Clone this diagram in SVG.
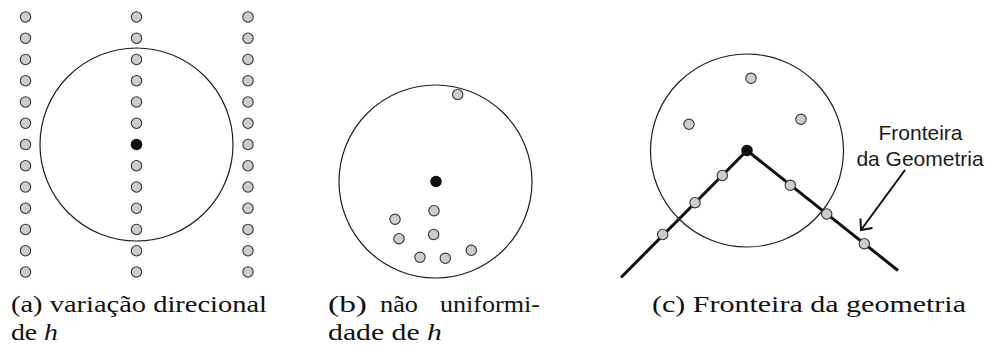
<svg xmlns="http://www.w3.org/2000/svg" width="991" height="349" viewBox="0 0 991 349">
<style>
.bg{fill:#fff}
.ring{fill:none;stroke:#1e1e1e;stroke-width:1.2}
.dot{fill:#cdcdcd;stroke:#333;stroke-width:1.1}
.ctr{fill:#111}
.cap{font-family:'Liberation Serif','Times New Roman',serif;font-size:23.5px;fill:#111}
.lbl{font-family:'Liberation Sans',Arial,sans-serif;font-size:21px;fill:#1a1a1a;text-anchor:middle}
.bnd{fill:none;stroke:#111;stroke-width:3;stroke-linejoin:miter}
.arr{fill:none;stroke:#111;stroke-width:2}
</style>
<defs>
<circle id="d" r="5.2" class="dot"/>
</defs>
<rect class="bg" x="0" y="0" width="991" height="349"/>

<g id="panel-a">
<circle class="ring" cx="136.5" cy="144.5" r="96.5"/>
<g id="col-left">
<use href="#d" x="25.5" y="17"/><use href="#d" x="25.5" y="38.25"/><use href="#d" x="25.5" y="59.5"/><use href="#d" x="25.5" y="80.75"/><use href="#d" x="25.5" y="102"/><use href="#d" x="25.5" y="123.25"/><use href="#d" x="25.5" y="144.5"/><use href="#d" x="25.5" y="165.75"/><use href="#d" x="25.5" y="187"/><use href="#d" x="25.5" y="208.25"/><use href="#d" x="25.5" y="229.5"/><use href="#d" x="25.5" y="250.75"/><use href="#d" x="25.5" y="272"/>
</g>
<g id="col-mid">
<use href="#d" x="136.5" y="17"/><use href="#d" x="136.5" y="38.25"/><use href="#d" x="136.5" y="59.5"/><use href="#d" x="136.5" y="80.75"/><use href="#d" x="136.5" y="102"/><use href="#d" x="136.5" y="123.25"/><use href="#d" x="136.5" y="165.75"/><use href="#d" x="136.5" y="187"/><use href="#d" x="136.5" y="208.25"/><use href="#d" x="136.5" y="229.5"/><use href="#d" x="136.5" y="250.75"/><use href="#d" x="136.5" y="272"/>
<circle class="ctr" cx="136.5" cy="144.5" r="5.8"/>
</g>
<g id="col-right">
<use href="#d" x="248" y="17"/><use href="#d" x="248" y="38.25"/><use href="#d" x="248" y="59.5"/><use href="#d" x="248" y="80.75"/><use href="#d" x="248" y="102"/><use href="#d" x="248" y="123.25"/><use href="#d" x="248" y="144.5"/><use href="#d" x="248" y="165.75"/><use href="#d" x="248" y="187"/><use href="#d" x="248" y="208.25"/><use href="#d" x="248" y="229.5"/><use href="#d" x="248" y="250.75"/><use href="#d" x="248" y="272"/>
</g>
<text class="cap" font-family="Liberation Serif, serif" x="11" y="312" textLength="256" lengthAdjust="spacingAndGlyphs">(a) variação direcional</text>
<text class="cap" font-family="Liberation Serif, serif" x="11" y="340" textLength="47" lengthAdjust="spacingAndGlyphs">de <tspan font-style="italic">h</tspan></text>
</g>

<g id="panel-b">
<circle class="ring" cx="435.5" cy="181.5" r="96.5"/>
<circle class="ctr" cx="436" cy="181.5" r="5.8"/>
<use href="#d" x="457.7" y="94.5"/>
<use href="#d" x="434" y="210.7"/>
<use href="#d" x="395" y="219.3"/>
<use href="#d" x="399" y="238.7"/>
<use href="#d" x="433.7" y="234.5"/>
<use href="#d" x="420" y="257.3"/>
<use href="#d" x="445.3" y="258.3"/>
<use href="#d" x="471.3" y="250.3"/>
<text class="cap" font-family="Liberation Serif, serif" x="328" y="312" textLength="39" lengthAdjust="spacingAndGlyphs">(b)</text>
<text class="cap" font-family="Liberation Serif, serif" x="380" y="312" textLength="38" lengthAdjust="spacingAndGlyphs">não</text>
<text class="cap" font-family="Liberation Serif, serif" x="440" y="312" textLength="100" lengthAdjust="spacingAndGlyphs">uniformi-</text>
<text class="cap" font-family="Liberation Serif, serif" x="328" y="340" textLength="114" lengthAdjust="spacingAndGlyphs">dade de <tspan font-style="italic">h</tspan></text>
</g>

<g id="connectors">
<polyline class="bnd" points="621,277.5 747,150.5 898,270.5"/>
<path class="arr" d="M905,170 L861,230 M860.5,218.5 L861,230 L872.5,228"/>
</g>

<g id="panel-c">
<circle class="ring" cx="747" cy="150.5" r="96.5"/>
<circle class="ctr" cx="747" cy="150.5" r="5.8"/>
<use href="#d" x="751" y="78.3"/>
<use href="#d" x="689" y="124.3"/>
<use href="#d" x="801" y="119.3"/>
<use href="#d" x="722.3" y="175.5"/>
<use href="#d" x="695" y="202.7"/>
<use href="#d" x="662.7" y="234.5"/>
<use href="#d" x="790.3" y="185.3"/>
<use href="#d" x="826.7" y="214"/>
<use href="#d" x="864.3" y="243.7"/>
<text class="cap" font-family="Liberation Serif, serif" x="652" y="312" textLength="314" lengthAdjust="spacingAndGlyphs">(c) Fronteira da geometria</text>
</g>

<g id="label-fronteira">
<text class="lbl" font-family="Liberation Sans, sans-serif" x="920.5" y="140">Fronteira</text>
<text class="lbl" font-family="Liberation Sans, sans-serif" x="920" y="166">da Geometria</text>
</g>
</svg>
